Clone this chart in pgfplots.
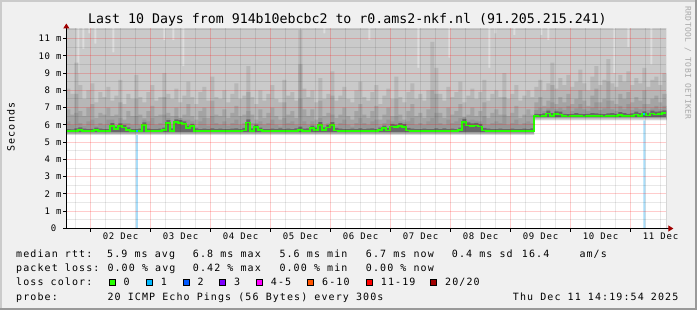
\documentclass[border=0pt]{standalone}
\usepackage{pgfplots}
\pgfplotsset{compat=1.18}
\usepackage{pgfplotstable}
\usepackage{fontspec}
\usetikzlibrary{arrows.meta}
\setmainfont{DejaVu Sans Mono}
\newfontfamily\legfontfam[LetterSpace=11]{DejaVu Sans Mono}
\newfontfamily\tickfontfam[LetterSpace=8]{DejaVu Sans Mono}
\newfontfamily\smallfontfam[LetterSpace=5]{DejaVu Sans Mono}
\newfontfamily\titlefontfam{DejaVu Sans Mono}
\newcommand\lf{\legfontfam\fontsize{10}{12}\selectfont}
\newcommand\tf{\tickfontfam\fontsize{9}{10}\selectfont}

\definecolor{bgc}{HTML}{F0F0F0}
\definecolor{shadea}{HTML}{CBCBCB}
\definecolor{shadeb}{HTML}{999999}
\definecolor{sm1}{HTML}{DDDDDD}
\definecolor{sm2}{HTML}{CACACA}
\definecolor{sm3}{HTML}{B7B7B7}
\definecolor{sm4}{HTML}{A4A4A4}
\definecolor{sm5}{HTML}{979797}
\definecolor{sm6}{HTML}{686868}
\definecolor{lossbg}{HTML}{A8DCF8}
\definecolor{l0}{HTML}{26FF00}
\definecolor{l1}{HTML}{00B8FF}
\definecolor{l2}{HTML}{0059FF}
\definecolor{l3}{HTML}{7E00FF}
\definecolor{l4}{HTML}{FF00FF}
\definecolor{l6}{HTML}{FF5500}
\definecolor{l11}{HTML}{FF0000}
\definecolor{l20}{HTML}{A10000}
\definecolor{arrowred}{HTML}{A00000}
\definecolor{wm}{HTML}{A8A8A8}

% rows: one sample every 1.6 h from Dec 1 14:20 (x = hours since Dec 1 00:00)
\pgfplotstableread{
U3 U4 U5 U6 M
8.1 6.9 6.2 5.76 5.63
7.8 6.6 6.0 5.74 5.63
9.6 7.8 6.7 5.80 5.65
8.3 6.8 6.1 5.86 5.72
7.5 6.5 5.95 5.78 5.66
8.0 7.0 6.2 5.75 5.63
8.4 7.2 6.3 5.77 5.64
7.3 6.4 5.95 5.84 5.70
7.9 6.7 6.1 5.78 5.66
7.6 6.6 6.0 5.75 5.63
8.2 7.0 6.3 5.76 5.63
7.4 6.5 6.3 6.10 5.92
7.7 6.6 6.0 5.90 5.75
8.6 7.3 6.4 6.08 5.92
7.2 6.3 6.1 5.98 5.84
7.8 6.8 6.1 5.86 5.72
7.5 6.5 6.0 5.75 5.63
8.9 7.5 6.5 5.76 5.63
7.6 6.6 6.0 5.78 5.64
7.3 6.4 6.3 6.15 5.98
7.9 6.8 6.2 5.78 5.65
8.3 7.1 6.4 5.75 5.63
7.4 6.5 6.0 5.76 5.63
7.6 6.6 6.1 5.78 5.64
9.0 7.6 6.6 5.84 5.70
7.8 6.7 6.4 6.28 6.10
7.5 6.5 6.0 5.80 5.66
8.1 7.0 6.5 6.32 6.15
7.3 6.4 6.4 6.28 6.12
7.7 6.6 6.3 6.20 6.05
8.5 7.2 6.3 5.95 5.80
7.6 6.5 6.2 6.06 5.92
7.2 6.3 5.9 5.80 5.66
7.9 6.8 6.2 5.76 5.63
8.2 7.0 6.4 5.78 5.64
7.4 6.4 5.95 5.76 5.63
8.8 7.4 6.5 5.80 5.66
7.6 6.6 6.1 5.75 5.63
7.5 6.5 6.0 5.78 5.64
8.0 6.9 6.2 5.76 5.63
7.3 6.4 5.95 5.76 5.63
7.8 6.7 6.1 5.78 5.64
8.4 7.1 6.3 5.80 5.66
7.5 6.5 6.0 5.75 5.63
7.7 6.6 6.1 5.82 5.68
9.4 7.9 6.8 6.32 6.14
7.6 6.6 6.1 5.80 5.66
7.2 6.3 6.1 6.02 5.86
8.0 6.9 6.2 5.84 5.70
7.4 6.4 6.0 5.76 5.63
7.8 6.7 6.1 5.75 5.63
8.3 7.0 6.3 5.78 5.64
7.5 6.5 6.0 5.76 5.63
7.3 6.3 5.9 5.80 5.66
8.6 7.3 6.4 5.76 5.63
7.7 6.6 6.1 5.78 5.64
7.9 6.8 6.2 5.75 5.63
7.4 6.4 6.0 5.80 5.66
11.5 9.5 7.5 5.90 5.70
8.1 6.9 6.2 5.78 5.64
7.6 6.5 6.0 5.80 5.66
8.0 6.9 6.2 5.95 5.80
7.3 6.3 5.95 5.84 5.70
8.7 7.4 6.4 6.16 6.00
7.5 6.5 6.0 5.86 5.72
7.8 6.7 6.1 6.00 5.85
9.1 7.7 6.6 6.16 6.00
7.4 6.4 5.95 5.82 5.68
7.7 6.6 6.1 5.78 5.64
8.2 7.0 6.3 5.76 5.63
7.5 6.5 6.0 5.75 5.63
7.3 6.3 5.9 5.78 5.64
8.0 6.8 6.1 5.76 5.63
8.5 7.2 6.4 5.79 5.65
7.6 6.6 6.1 5.75 5.63
7.4 6.4 6.0 5.78 5.64
7.9 6.8 6.2 5.80 5.66
8.3 7.1 6.3 5.76 5.63
7.2 6.3 5.95 5.84 5.70
7.7 6.6 6.1 5.95 5.80
8.1 7.0 6.3 5.82 5.68
7.5 6.5 6.2 6.06 5.90
8.8 7.5 6.5 6.02 5.86
7.6 6.6 6.2 6.10 5.92
7.3 6.3 6.15 6.04 5.88
7.9 6.8 6.2 5.82 5.68
8.4 7.2 6.4 5.78 5.64
7.5 6.5 6.0 5.75 5.63
7.8 6.7 6.1 5.76 5.63
7.4 6.4 6.0 5.78 5.64
8.0 6.9 6.2 5.76 5.63
10.8 8.0 6.4 5.75 5.63
9.3 7.8 6.7 5.80 5.64
7.8 6.7 6.1 5.76 5.63
7.4 6.4 6.0 5.80 5.66
8.2 7.0 6.3 5.75 5.63
7.6 6.6 6.1 5.78 5.64
7.9 6.8 6.2 5.76 5.63
8.5 7.2 6.4 5.84 5.70
7.3 6.3 6.45 6.34 6.16
7.7 6.6 6.25 6.14 5.97
8.1 7.0 6.3 6.08 5.92
7.5 6.5 6.25 6.12 5.96
7.9 6.8 6.2 6.06 5.90
8.6 7.3 6.5 5.82 5.68
7.4 6.4 6.0 5.78 5.64
7.8 6.7 6.1 5.76 5.63
8.0 6.9 6.2 5.75 5.63
7.6 6.6 6.1 5.78 5.64
9.0 7.6 6.6 5.76 5.63
7.5 6.5 6.0 5.76 5.63
7.8 6.7 6.1 5.78 5.64
8.3 7.1 6.3 5.75 5.63
7.4 6.4 6.0 5.76 5.63
7.7 6.6 6.1 5.78 5.64
8.0 6.9 6.2 5.76 5.63
7.6 6.6 6.1 5.80 5.66
8.2 7.3 6.85 6.64 6.50
8.6 7.6 7.0 6.62 6.48
8.0 7.1 6.8 6.66 6.50
8.4 7.4 6.95 6.82 6.65
9.6 8.3 7.3 6.68 6.52
8.1 7.2 6.9 6.78 6.62
8.7 7.6 7.0 6.76 6.60
8.3 7.3 6.85 6.64 6.50
8.9 7.8 7.1 6.62 6.48
8.2 7.2 6.8 6.64 6.50
8.5 7.5 6.95 6.68 6.52
9.2 8.0 7.2 6.64 6.50
8.4 7.4 6.9 6.62 6.48
8.0 7.1 6.8 6.64 6.50
8.8 7.7 7.0 6.68 6.52
9.4 8.1 7.3 6.66 6.50
8.3 7.3 6.85 6.64 6.50
8.6 7.5 6.95 6.62 6.48
9.8 8.5 7.4 6.66 6.50
8.4 7.4 6.9 6.68 6.52
8.2 7.2 6.8 6.64 6.50
8.9 7.8 7.1 6.74 6.58
8.5 7.5 6.9 6.68 6.52
9.1 7.9 7.2 6.64 6.50
8.3 7.3 6.85 6.66 6.50
8.7 7.6 7.0 6.76 6.60
8.4 7.4 6.9 6.68 6.52
9.3 8.0 7.2 6.78 6.62
8.2 7.2 6.85 6.70 6.55
8.6 7.5 6.95 6.82 6.65
8.8 7.7 7.1 6.76 6.60
8.3 7.3 6.9 6.78 6.62
9.0 7.8 7.1 6.84 6.68
9.0 7.8 7.1 6.84 6.68
}\smoke

\begin{document}
\begin{tikzpicture}
\fill[bgc] (0,0) rectangle (697pt,-310pt);
\fill[shadea] (0,0) rectangle (697pt,-2pt);
\fill[shadea] (0,0) rectangle (2pt,-310pt);
\fill[shadeb] (0,-308pt) rectangle (697pt,-310pt);
\fill[shadeb] (695pt,0) rectangle (697pt,-310pt);

\begin{axis}[
  at={(66.33pt,-228.5pt)}, anchor=south west,
  scale only axis, width=600pt, height=200pt,
  xmin=14.333, xmax=254.333, ymin=0, ymax=11.58,
  axis lines=left,
  axis on top,
  axis background/.style={fill=white},
  x axis line style={-{Triangle[length=5pt,width=6pt,color=arrowred]}, shorten >=-7pt, line width=1pt, black},
  y axis line style={-{Triangle[length=5pt,width=6pt,color=arrowred]}, shorten >=-5pt, line width=1pt, black},
  % midnight ticks; their day labels are set half a day (30pt) to the right, at noon
  xtick={24,48,...,240},
  xticklabels={02 Dec,03 Dec,04 Dec,05 Dec,06 Dec,07 Dec,08 Dec,09 Dec,10 Dec,11 Dec},
  minor xtick={18,30,36,42,54,60,66,78,84,90,102,108,114,126,132,138,150,156,162,174,180,186,198,204,210,222,228,234,246,252},
  ytick={0,1,...,11},
  yticklabels={0\hphantom{0},1 m,2 m,3 m,4 m,5 m,6 m,7 m,8 m,9 m,10 m,11 m},
  minor ytick={0.5,1.5,...,11.5},
  grid=both,
  major grid style={draw=red, draw opacity=0.2, line width=1pt},
  minor grid style={draw=black, draw opacity=0.09, line width=1pt},
  tick align=outside, major tick length=3pt, minor tick length=0pt,
  every tick/.style={black, line width=1pt},
  xticklabel style={font=\tf, inner sep=0pt, xshift=30pt, yshift=-1pt},
  yticklabel style={font=\tf, inner sep=0pt, xshift=-1.5pt},
]
\addplot[fill=sm1, draw=none] coordinates {(14.333,12) (254.333,12)} \closedcycle;
\addplot[fill=sm2, draw=none, const plot] coordinates {(14.333,12) (18.73,9.0) (19.53,12) (20.73,10.4) (21.53,12) (23.13,11.3) (23.93,12) (25.53,10.7) (26.33,12) (32.73,10.2) (33.53,12) (53.13,10.9) (53.93,12) (56.73,10.9) (57.53,12) (60.73,9.4) (61.53,12) (117.13,11.3) (117.93,12) (135.13,10.9) (135.93,12) (154.73,9.3) (155.53,12) (167.13,9.9) (167.93,12) (183.13,9.3) (183.93,12) (185.53,11.3) (186.33,12) (193.13,11.2) (193.93,12) (203.93,11.2) (204.73,12) (206.73,10.9) (207.53,12) (233.13,9.0) (233.93,12) (238.73,10.5) (239.53,12) (247.93,9.5) (248.73,12) (254.333,12)} \closedcycle;
\addplot[fill=sm3, draw=none, const plot] table[x expr={14.333+1.6*\coordindex}, y=U3]{\smoke} \closedcycle;
\addplot[fill=sm4, draw=none, const plot] table[x expr={14.333+1.6*\coordindex}, y=U4]{\smoke} \closedcycle;
\addplot[fill=sm5, draw=none, const plot] table[x expr={14.333+1.6*\coordindex}, y=U5]{\smoke} \closedcycle;
\addplot[fill=sm6, draw=none, const plot] table[x expr={14.333+1.6*\coordindex}, y=U6]{\smoke} \closedcycle;
% lower edge of the smoke
\addplot[fill=sm3, draw=none, const plot] coordinates {(14.333,5.57) (201.533,6.43) (254.333,6.43)} \closedcycle;
\addplot[fill=sm2, draw=none, const plot] coordinates {(14.333,5.50) (201.533,6.36) (254.333,6.36)} \closedcycle;
\addplot[fill=sm1, draw=none, const plot] coordinates {(14.333,5.45) (201.533,6.30) (254.333,6.30)} \closedcycle;
\addplot[fill=white, draw=none, const plot] coordinates {(14.333,5.41) (201.533,6.26) (254.333,6.26)} \closedcycle;
% loss background bars (1/20 lost)
\addplot[fill=lossbg, draw=none, const plot] coordinates {(42.13,5.41) (42.93,5.41)} \closedcycle;
\addplot[fill=lossbg, draw=none, const plot] coordinates {(245.13,6.26) (245.93,6.26)} \closedcycle;
% median
\addplot[const plot, draw=l0, line width=1.7pt] table[x expr={14.333+1.6*\coordindex}, y=M]{\smoke};
\addplot[draw=l1, line width=1.7pt] coordinates {(42.13,5.63) (42.93,5.63)};
\addplot[draw=l1, line width=1.7pt] coordinates {(245.13,6.62) (245.93,6.62)};
\end{axis}

\node[anchor=base, inner sep=0pt, font=\titlefontfam\fontsize{13.25}{15}\selectfont] at (347.5pt,-24pt) {Last 10 Days from 914b10ebcbc2 to r0.ams2-nkf.nl (91.205.215.241)};
\node[rotate=90, inner sep=0pt, font=\lf] at (10.8pt,-127pt) {Seconds};
\node[rotate=-90, inner sep=0pt, text=wm, font=\smallfontfam\fontsize{8}{9}\selectfont] at (688pt,-63pt) {RRDTOOL / TOBI OETIKER};

\begin{scope}[every node/.style={anchor=base west, inner sep=0pt, font=\lf}]
\node at (16pt,-258pt) {median rtt:};
\node at (107pt,-258pt) {5.9 ms avg};
\node at (192.7pt,-258pt) {6.8 ms max};
\node at (279.3pt,-258pt) {5.6 ms min};
\node at (365.7pt,-258pt) {6.7 ms now};
\node at (451.7pt,-258pt) {0.4 ms sd};
\node at (521.7pt,-258pt) {16.4};
\node at (579.3pt,-258pt) {am/s};
\node at (16pt,-272pt) {packet loss:};
\node at (107.3pt,-272pt) {0.00 \% avg};
\node at (192.7pt,-272pt) {0.42 \% max};
\node at (279.3pt,-272pt) {0.00 \% min};
\node at (365.7pt,-272pt) {0.00 \% now};
\node at (16pt,-286pt) {loss color:};
\node at (123.3pt,-286pt) {0};
\node at (160.7pt,-286pt) {1};
\node at (197.3pt,-286pt) {2};
\node at (234pt,-286pt) {3};
\node at (270.7pt,-286pt) {4-5};
\node at (322pt,-286pt) {6-10};
\node at (380.7pt,-286pt) {11-19};
\node at (445pt,-286pt) {20/20};
\node at (16pt,-300pt) {probe:};
\node at (107.3pt,-300pt) {20 ICMP Echo Pings (56 Bytes) every 300s};
\node at (512.7pt,-300pt) {Thu Dec 11 14:19:54 2025};
\end{scope}
\begin{scope}[line width=0.8pt, draw=black]
\filldraw[fill=l0] (109pt,-279pt) rectangle ++(6.2pt,-6.2pt);
\filldraw[fill=l1] (146.3pt,-279pt) rectangle ++(6.2pt,-6.2pt);
\filldraw[fill=l2] (183pt,-279pt) rectangle ++(6.2pt,-6.2pt);
\filldraw[fill=l3] (219.6pt,-279pt) rectangle ++(6.2pt,-6.2pt);
\filldraw[fill=l4] (256.3pt,-279pt) rectangle ++(6.2pt,-6.2pt);
\filldraw[fill=l6] (307.6pt,-279pt) rectangle ++(6.2pt,-6.2pt);
\filldraw[fill=l11] (366pt,-279pt) rectangle ++(6.2pt,-6.2pt);
\filldraw[fill=l20] (430.6pt,-279pt) rectangle ++(6.2pt,-6.2pt);
\end{scope}
\pgfresetboundingbox
\path[use as bounding box] (0,0) rectangle (697pt,-310pt);
\end{tikzpicture}
\end{document}
